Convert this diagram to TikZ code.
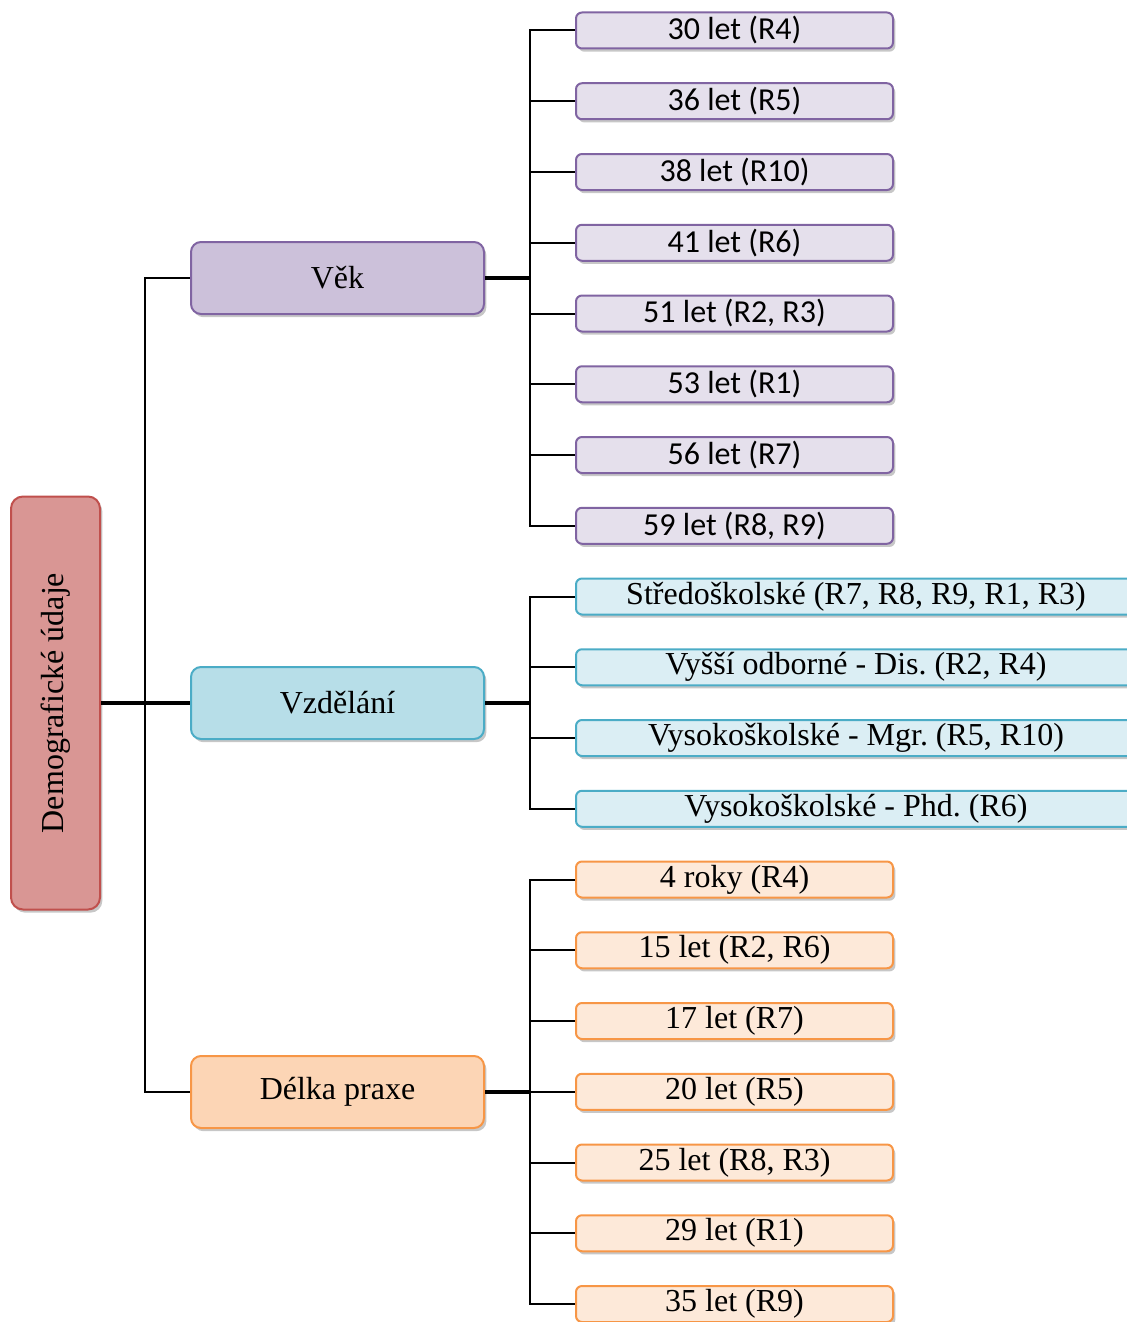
\documentclass[tikz,border=0pt]{standalone}
\usepackage{fontspec}
\setmainfont{Liberation Serif}
\newfontfamily\calibri{Carlito}
\usetikzlibrary{shadows}
\frenchspacing

\definecolor{rootfill}{RGB}{217,150,148}
\definecolor{rootline}{RGB}{192,80,77}
\definecolor{vekfill}{RGB}{204,193,218}
\definecolor{vekleaf}{RGB}{229,224,236}
\definecolor{vekline}{RGB}{128,100,162}
\definecolor{vzdfill}{RGB}{183,222,232}
\definecolor{vzdleaf}{RGB}{219,238,244}
\definecolor{vzdline}{RGB}{75,172,198}
\definecolor{praxfill}{RGB}{252,213,181}
\definecolor{praxleaf}{RGB}{253,233,217}
\definecolor{praxline}{RGB}{247,150,70}

\tikzstyle{box}=[rectangle,draw,line width=1pt,inner sep=0pt,
  font=\fontsize{16}{19}\selectfont,
  drop shadow={shadow xshift=1.2pt,shadow yshift=-1.6pt,fill=black,opacity=0.22}]
\tikzstyle{root}=[box,rounded corners=6pt,minimum width=44.5pt,minimum height=206.5pt,draw=rootline,fill=rootfill]
\tikzstyle{group}=[box,rounded corners=5pt,minimum width=146.5pt,minimum height=36pt]
\tikzstyle{leaf}=[box,rounded corners=3pt,minimum width=158.5pt,minimum height=18pt]
\tikzstyle{wide leaf}=[leaf,minimum width=280pt]
\tikzstyle{edge}=[draw,line width=1pt,-]
\tikzstyle{main edge}=[draw,line width=1.6pt,-]

\begin{document}
\begin{tikzpicture}[x=0.5pt,y=-0.5pt]
    \useasboundingbox (0,0) rectangle (1126,1322);

    % root and the three groups
    \node[root] (root) at (55.5,703) {\rotatebox{90}{Demografické údaje}};
    \node[group,draw=vekline,fill=vekfill] (vek) at (337.5,278) {Věk};
    \node[group,draw=vzdline,fill=vzdfill] (vzd) at (337.5,703) {Vzdělání};
    \node[group,draw=praxline,fill=praxfill] (prax) at (337.5,1092) {Délka praxe};

    % age
    \foreach \y/\name/\txt in {30.5/a1/{30 let (R4)}, 101.25/a2/{36 let (R5)},
                               172/a3/{38 let (R10)}, 242.75/a4/{41 let (R6)},
                               313.5/a5/{51 let (R2, R3)}, 384.25/a6/{53 let (R1)},
                               455/a7/{56 let (R7)}, 525.75/a8/{59 let (R8, R9)}}
        \node[leaf,draw=vekline,fill=vekleaf,font=\calibri\fontsize{16}{19}\selectfont] (\name) at (734.5,\y) {\txt};

    % education
    \foreach \y/\name/\txt in {596.5/e1/{Středoškolské (R7, R8, R9, R1, R3)},
                               667.25/e2/{Vyšší odborné - Dis. (R2, R4)},
                               738/e3/{Vysokoškolské - Mgr. (R5, R10)},
                               808.75/e4/{Vysokoškolské - Phd. (R6)}}
        \node[wide leaf,draw=vzdline,fill=vzdleaf] (\name) at (856,\y) {\txt};

    % practice
    \foreach \y/\name/\txt in {879.5/p1/{4 roky (R4)}, 950.25/p2/{15 let (R2, R6)},
                               1021/p3/{17 let (R7)}, 1091.75/p4/{20 let (R5)},
                               1162.5/p5/{25 let (R8, R3)}, 1233.25/p6/{29 let (R1)},
                               1304/p7/{35 let (R9)}}
        \node[leaf,draw=praxline,fill=praxleaf] (\name) at (734.5,\y) {\txt};

    % connectors
    \coordinate (trunk) at (145,703);
    \path[main edge] (root.east) -- (vzd.west);
    \foreach \dest in {vek, prax}
        \path[edge] (trunk) |- (\dest.west);

    \coordinate (vekbus) at (530,278);
    \coordinate (vzdbus) at (530,703);
    \coordinate (praxbus) at (530,1092);
    \foreach \source/\bus in {vek/vekbus, vzd/vzdbus, prax/praxbus}
        \path[main edge] (\source.east) -- (\bus);
    \foreach \dest in {a1,a2,a3,a4,a5,a6,a7,a8}
        \path[edge] (vekbus) |- (\dest.west);
    \foreach \dest in {e1,e2,e3,e4}
        \path[edge] (vzdbus) |- (\dest.west);
    \foreach \dest in {p1,p2,p3,p4,p5,p6,p7}
        \path[edge] (praxbus) |- (\dest.west);
\end{tikzpicture}
\end{document}
